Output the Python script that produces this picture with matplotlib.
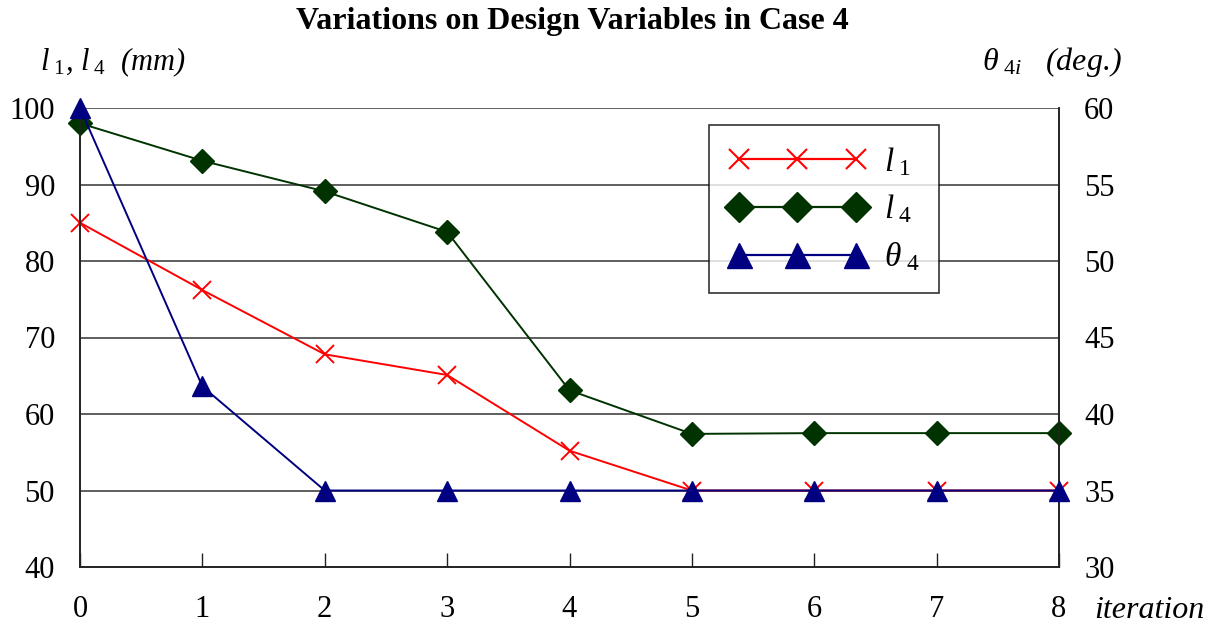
import matplotlib
matplotlib.use("Agg")
import matplotlib.pyplot as plt
from matplotlib.lines import Line2D

plt.rcParams['font.family'] = ['Liberation Serif', 'DejaVu Serif']
plt.rcParams['mathtext.fontset'] = 'custom'
plt.rcParams['mathtext.it'] = 'Liberation Serif:italic'
plt.rcParams['mathtext.rm'] = 'Liberation Serif'

iterations = [0, 1, 2, 3, 4, 5, 6, 7, 8]
l1_mm = [85.0, 76.2, 67.8, 65.1, 55.2, 50.0, 50.0, 50.0, 50.0]
l4_mm = [98.0, 93.1, 89.1, 83.8, 63.1, 57.4, 57.5, 57.5, 57.5]
theta4_deg = [60.0, 41.8, 35.0, 35.0, 35.0, 35.0, 35.0, 35.0, 35.0]
left_ticks = [40, 50, 60, 70, 80, 90, 100]
right_ticks = [30, 35, 40, 45, 50, 55, 60]

RED = '#FF0000'
GREEN = '#003300'
NAVY = '#000080'

fig = plt.figure(figsize=(12.13, 6.29), dpi=100)
ax = fig.add_axes([80 / 1213, 62 / 629, (1059 - 80) / 1213, (567 - 108) / 629])
ax2 = ax.twinx()

for y in left_ticks[1:]:
    ax.axhline(y, color='#333333', lw=1.1, zorder=0)

ax.plot(iterations, l1_mm, color=RED, lw=1.4, marker='x', ms=13, mew=1.4,
        clip_on=False, zorder=3)
ax.plot(iterations, l4_mm, color=GREEN, lw=1.4, marker='D', ms=12,
        mfc=GREEN, mec=GREEN, clip_on=False, zorder=3)
ax2.plot(iterations, theta4_deg, color=NAVY, lw=1.4, marker='^', ms=15,
         mfc=NAVY, mec=NAVY, clip_on=False, zorder=4)

ax.set_xlim(0, 8)
ax.set_ylim(40, 100)
ax2.set_ylim(30, 60)
ax.set_xticks(iterations)
ax.set_yticks(left_ticks)
ax2.set_yticks(right_ticks)

for a in (ax, ax2):
    a.spines['top'].set_visible(False)
    for s in ('left', 'right', 'bottom'):
        a.spines[s].set_color('#222222')
        a.spines[s].set_linewidth(1.2)

ax.tick_params(axis='x', direction='in', length=10, width=1, pad=20,
               labelsize=22, colors='#222222', labelcolor='black')
ax.tick_params(axis='y', direction='out', length=0, pad=18, labelsize=22)
ax2.tick_params(axis='y', direction='out', length=0, pad=18, labelsize=22)

fig.text(572 / 1213, 1 - 22 / 629, 'Variations on Design Variables in Case 4',
         ha='center', va='center', fontsize=23, fontweight='bold')
fig.text(40 / 1213, 1 - 62 / 629, r'$l_{\ 1}$, $l_{\ 4}$  (mm)',
         ha='left', va='center', fontsize=22, style='italic')
fig.text(982 / 1213, 1 - 62 / 629, r'$\theta_{\ 4i}$   (deg.)',
         ha='left', va='center', fontsize=23, style='italic')
fig.text(1094 / 1213, 1 - 610 / 629, 'iteration',
         ha='left', va='center', fontsize=23, style='italic')

handles = [
    Line2D([], [], color=RED, lw=1.6, marker='x', ms=15, mew=1.5),
    Line2D([], [], color=GREEN, lw=1.6, marker='D', ms=15, mfc=GREEN, mec=GREEN),
    Line2D([], [], color=NAVY, lw=1.6, marker='^', ms=18, mfc=NAVY, mec=NAVY),
]
labels = [r'$l_{\ 1}$', r'$l_{\ 4}$', r'$\theta_{\ 4}$']
leg = ax2.legend(handles, labels, loc='upper left',
                 bbox_to_anchor=((709 - 80) / (1059 - 80), 1 - (125 - 108) / (567 - 108)),
                 numpoints=3, handlelength=4.1, fontsize=24, frameon=True,
                 fancybox=False, borderpad=0.6, labelspacing=0.45,
                 handletextpad=0.55, borderaxespad=0)
leg.get_frame().set_edgecolor('black')
leg.get_frame().set_linewidth(1.2)
leg.set_zorder(10)

fig.savefig('out.png', dpi=100)
